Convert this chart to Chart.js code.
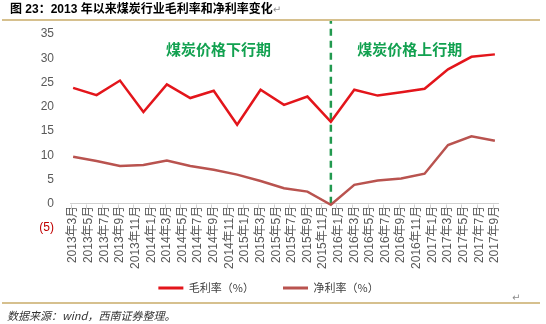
<!DOCTYPE html>
<html>
<head>
<meta charset="utf-8">
<script src="https://cdn.jsdelivr.net/npm/chart.js@4.4.1/dist/chart.umd.min.js"></script>
<style>
  html, body { margin: 0; padding: 0; background: #fff; }
  #wrap { position: relative; width: 546px; height: 324px; overflow: hidden; }
  #wrap canvas { position: absolute; left: 0; top: 0; }
  .caption { position: absolute; left: 10px; top: 2px; font: bold 12px/14px 'Liberation Sans', 'Noto Sans CJK SC', sans-serif; color: #000; white-space: nowrap; }
  .rule { position: absolute; left: 2px; width: 538px; height: 2px; background: #d6c08e; }
  .source { position: absolute; left: 7px; top: 308px; font: italic 11px/14px 'Noto Sans CJK SC', sans-serif; color: #333; white-space: nowrap; }
  .mark { color: #8c8c8c; font: 10px/12px 'DejaVu Sans', sans-serif; }
</style>
</head>
<body>
<div id="wrap">
  <canvas id="chart" width="546" height="324"></canvas>
  <div class="caption">图 23：2013 年以来煤炭行业毛利率和净利率变化<span class="mark">↵</span></div>
  <div class="rule" style="top:19px"></div>
  <div class="rule" style="top:302px"></div>
  <div class="mark" style="position:absolute;left:512px;top:292px">↵</div>
  <div class="source">数据来源：wind，西南证券整理。</div>
</div>
<script>
// Axis labels, every two months
const TICK_LABELS = [
  '2013年3月', '2013年5月', '2013年7月', '2013年9月', '2013年11月',
  '2014年1月', '2014年3月', '2014年5月', '2014年7月', '2014年9月', '2014年11月',
  '2015年1月', '2015年3月', '2015年5月', '2015年7月', '2015年9月', '2015年11月',
  '2016年1月', '2016年3月', '2016年5月', '2016年7月', '2016年9月', '2016年11月',
  '2017年1月', '2017年3月', '2017年5月', '2017年7月', '2017年9月'
];

// Quarterly reporting periods
const PERIODS = [
  '2013年3月', '2013年6月', '2013年9月', '2013年12月',
  '2014年3月', '2014年6月', '2014年9月', '2014年12月',
  '2015年3月', '2015年6月', '2015年9月', '2015年12月',
  '2016年3月', '2016年6月', '2016年9月', '2016年12月',
  '2017年3月', '2017年6月', '2017年9月'
];

// Coal industry gross margin (%)
const GROSS_MARGIN = [23.9, 22.4, 25.4, 18.9, 24.6, 21.8, 23.3, 16.3, 23.5, 20.4, 22.1, 16.9, 23.5, 22.3, 23.0, 23.7, 27.7, 30.3, 30.8];
// Coal industry net margin (%)
const NET_MARGIN = [9.7, 8.8, 7.8, 8.0, 8.9, 7.8, 7.0, 6.0, 4.7, 3.2, 2.5, -0.2, 3.9, 4.8, 5.2, 6.2, 12.1, 13.9, 13.0];

const Y_TICKS = [-5, 0, 5, 10, 15, 20, 25, 30, 35];
const SERIES_NAMES = ['毛利率（%）', '净利率（%）'];
const PHASE_NAMES = ['煤炭价格下行期', '煤炭价格上行期'];
const TURNING_PERIOD = '2015年12月';
const TURNING_SPAN = [0, 37.7];

// months elapsed since the first axis label
const [BASE_Y, BASE_M] = TICK_LABELS[0].match(/(\d+)年(\d+)月/).slice(1).map(Number);
function monthIndex(label) {
  const [y, m] = label.match(/(\d+)年(\d+)月/).slice(1).map(Number);
  return (y - BASE_Y) * 12 + (m - BASE_M);
}
const toPoints = values => values.map((v, i) => ({ x: monthIndex(PERIODS[i]), y: v }));
const turnX = monthIndex(TURNING_PERIOD);

const FONT = "'Liberation Sans', 'Noto Sans CJK SC', sans-serif";
Chart.defaults.font.family = FONT;

// small tick marks hanging below the zero line, between the month labels
const tickMarks = {
  id: 'tickMarks',
  beforeDatasetsDraw(chart, args, opts) {
    const { ctx, scales: { x, y } } = chart;
    const y0 = Math.round(y.getPixelForValue(0)) + 0.5;
    ctx.save();
    ctx.strokeStyle = opts.color;
    ctx.lineWidth = 1;
    ctx.beginPath();
    TICK_LABELS.forEach(l => {
      const px = Math.round(x.getPixelForValue(monthIndex(l) - opts.shift)) + 0.5;
      ctx.moveTo(px, y0);
      ctx.lineTo(px, y0 + opts.length);
    });
    ctx.stroke();
    ctx.restore();
  }
};

// phase captions on either side of the turning point
const phaseLabels = {
  id: 'phaseLabels',
  afterDatasetsDraw(chart, args, opts) {
    const { ctx, scales: { x, y } } = chart;
    ctx.save();
    ctx.font = opts.font;
    ctx.fillStyle = opts.color;
    ctx.textAlign = 'center';
    ctx.textBaseline = 'middle';
    opts.items.forEach(it => ctx.fillText(it.text, x.getPixelForValue(it.x), y.getPixelForValue(it.y)));
    ctx.restore();
  }
};

new Chart(document.getElementById('chart'), {
  type: 'line',
  data: {
    datasets: [
      {
        label: SERIES_NAMES[0],
        data: toPoints(GROSS_MARGIN),
        borderColor: '#e3151b',
        backgroundColor: '#e3151b',
        borderWidth: 2.5,
        pointRadius: 0,
        tension: 0,
        order: 1
      },
      {
        label: SERIES_NAMES[1],
        data: toPoints(NET_MARGIN),
        borderColor: '#b9534f',
        backgroundColor: '#b9534f',
        borderWidth: 2.5,
        pointRadius: 0,
        tension: 0,
        order: 2
      },
      {
        label: '',
        data: TURNING_SPAN.map(v => ({ x: turnX, y: v })),
        borderColor: '#22994f',
        borderWidth: 2.5,
        borderDash: [7, 5],
        pointRadius: 0,
        clip: false,
        order: 3
      }
    ]
  },
  options: {
    responsive: false,
    animation: false,
    devicePixelRatio: 1,
    layout: { padding: { top: 34, right: 9, bottom: 20.5, left: 0 } },
    scales: {
      x: {
        type: 'linear',
        position: { y: 0 },
        min: -0.4,
        max: 54.4,
        afterBuildTicks: s => { s.ticks = TICK_LABELS.map(l => ({ value: monthIndex(l) })); },
        afterFit: s => { s.height = 0; },
        grid: { display: false, drawTicks: false },
        border: { display: true, color: '#d0d0d0', width: 1 },
        ticks: {
          autoSkip: false,
          minRotation: 90,
          maxRotation: 90,
          padding: 2,
          color: '#595959',
          font: { size: 12 },
          callback: (v, i) => TICK_LABELS[i]
        }
      },
      y: {
        min: -5,
        max: 35,
        afterBuildTicks: s => { s.ticks = Y_TICKS.map(v => ({ value: v })); },
        afterFit: s => { s.width = 70; },
        grid: { display: false, drawTicks: false },
        border: { display: false },
        ticks: {
          padding: 16,
          color: c => (c.tick && c.tick.value < 0 ? '#c00000' : '#595959'),
          font: { size: 12 },
          callback: v => (v < 0 ? '(' + Math.abs(v) + ')' : String(v))
        }
      },
      // blank margin on the right of the plot
      yRight: {
        position: 'right',
        min: -5,
        max: 35,
        afterFit: s => { s.width = 39; },
        grid: { display: false, drawTicks: false },
        border: { display: false },
        ticks: { display: false }
      }
    },
    plugins: {
      legend: {
        position: 'bottom',
        title: { display: true, text: '', font: { size: 10, lineHeight: 1 }, padding: { top: 15.5, bottom: 0 } },
        labels: {
          boxWidth: 25,
          boxHeight: 3,
          padding: 29,
          color: '#404040',
          font: { size: 11, family: "'Noto Sans CJK SC', sans-serif" },
          filter: item => item.datasetIndex < 2,
          generateLabels: chart =>
            Chart.defaults.plugins.legend.labels.generateLabels(chart).map(l => ({ ...l, lineWidth: 0 }))
        }
      },
      tooltip: { enabled: false },
      tickMarks: { color: '#d0d0d0', length: 5, shift: 0.3 },
      phaseLabels: {
        font: "bold 15px 'Noto Sans CJK SC', sans-serif",
        color: '#12a150',
        items: [
          { text: PHASE_NAMES[0], x: 18.6, y: 31.9 },
          { text: PHASE_NAMES[1], x: 43.1, y: 31.9 }
        ]
      }
    }
  },
  plugins: [tickMarks, phaseLabels]
});
</script>
</body>
</html>
